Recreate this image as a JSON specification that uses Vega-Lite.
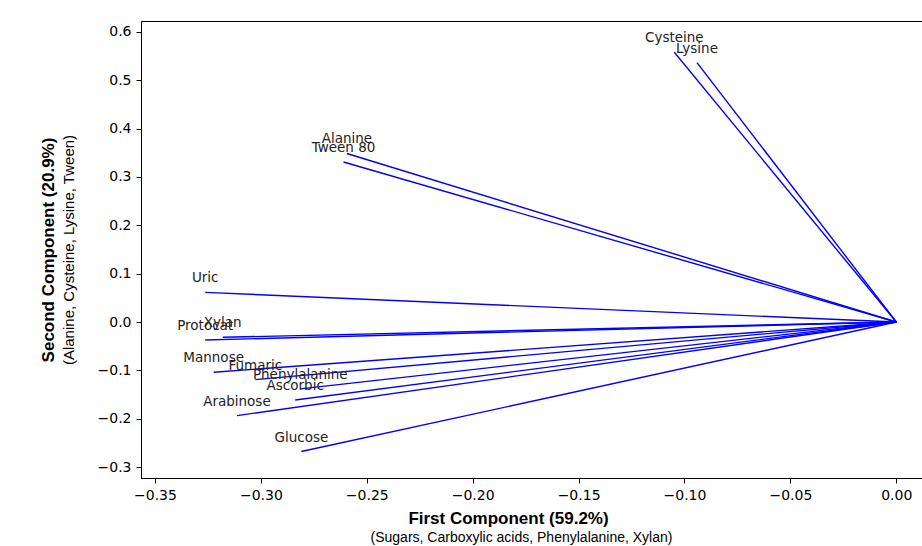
{
  "$schema": "https://vega.github.io/schema/vega-lite/v6.json",
  "width": 781,
  "height": 457,
  "autosize": {"type": "none"},
  "padding": {"left": 141, "top": 21, "right": 0, "bottom": 68},
  "background": "white",
  "config": {
    "view": {"stroke": "black", "strokeWidth": 1},
    "axis": {
      "grid": false,
      "domainColor": "black",
      "tickColor": "black",
      "labelColor": "black",
      "titleColor": "black",
      "labelFont": "DejaVu Sans",
      "labelFontSize": 14,
      "tickSize": 5
    }
  },
  "data": {
    "values": [
      {"name": "Cysteine", "x": -0.1048, "y": 0.558},
      {"name": "Lysine", "x": -0.0941, "y": 0.5365},
      {"name": "Alanine", "x": -0.2594, "y": 0.3486},
      {"name": "Tween 80", "x": -0.2610, "y": 0.3310},
      {"name": "Uric", "x": -0.3263, "y": 0.0613},
      {"name": "Protocat", "x": -0.3263, "y": -0.0372},
      {"name": "Xylan", "x": -0.3180, "y": -0.0316},
      {"name": "Mannose", "x": -0.3223, "y": -0.1040},
      {"name": "Fumaric", "x": -0.3026, "y": -0.1192},
      {"name": "Phenylalanine", "x": -0.2814, "y": -0.1384},
      {"name": "Ascorbic", "x": -0.2838, "y": -0.1612},
      {"name": "Arabinose", "x": -0.3113, "y": -0.1936},
      {"name": "Glucose", "x": -0.2809, "y": -0.2680}
    ]
  },
  "layer": [
    {
      "mark": {"type": "rule", "color": "#0000ff", "strokeWidth": 1.4},
      "encoding": {
        "x": {
          "field": "x", "type": "quantitative",
          "scale": {"domain": [-0.3566, 0.01214], "nice": false, "zero": false},
          "axis": {
            "values": [-0.35, -0.3, -0.25, -0.2, -0.15, -0.1, -0.05, 0],
            "format": ".2f",
            "labelPadding": 5,
            "title": "First Component (59.2%)",
            "titleFont": "Liberation Sans",
            "titleFontWeight": "bold",
            "titleFontSize": 17,
            "titlePadding": 8,
            "titleX": 367
          }
        },
        "y": {
          "field": "y", "type": "quantitative",
          "scale": {"domain": [-0.3227, 0.6227], "nice": false, "zero": false},
          "axis": {
            "values": [-0.3, -0.2, -0.1, 0, 0.1, 0.2, 0.3, 0.4, 0.5, 0.6],
            "format": ".1f",
            "labelPadding": 5,
            "title": "(Alanine, Cysteine, Lysine, Tween)",
            "titleFont": "Liberation Sans",
            "titleFontWeight": "normal",
            "titleFontSize": 15,
            "titlePadding": 21
          }
        },
        "x2": {"datum": 0},
        "y2": {"datum": 0}
      }
    },
    {
      "mark": {"type": "text", "dy": -14, "align": "center", "font": "DejaVu Sans", "fontSize": 13.5, "color": "#222222"},
      "encoding": {
        "x": {
          "field": "x", "type": "quantitative",
          "scale": {"domain": [-0.3566, 0.01214], "nice": false, "zero": false},
          "axis": {
            "orient": "bottom",
            "labels": false, "ticks": false, "domain": false,
            "title": "(Sugars, Carboxylic acids, Phenylalanine, Xylan)",
            "titleFont": "Liberation Sans",
            "titleFontWeight": "normal",
            "titleFontSize": 14,
            "titlePadding": 52,
            "titleX": 380
          }
        },
        "y": {
          "field": "y", "type": "quantitative",
          "scale": {"domain": [-0.3227, 0.6227], "nice": false, "zero": false},
          "axis": {
            "orient": "left",
            "labels": false, "ticks": false, "domain": false,
            "title": "Second Component (20.9%)",
            "titleFont": "Liberation Sans",
            "titleFontWeight": "bold",
            "titleFontSize": 17,
            "titlePadding": 84
          }
        },
        "text": {"field": "name"}
      }
    }
  ],
  "resolve": {"axis": {"x": "independent", "y": "independent"}}
}
